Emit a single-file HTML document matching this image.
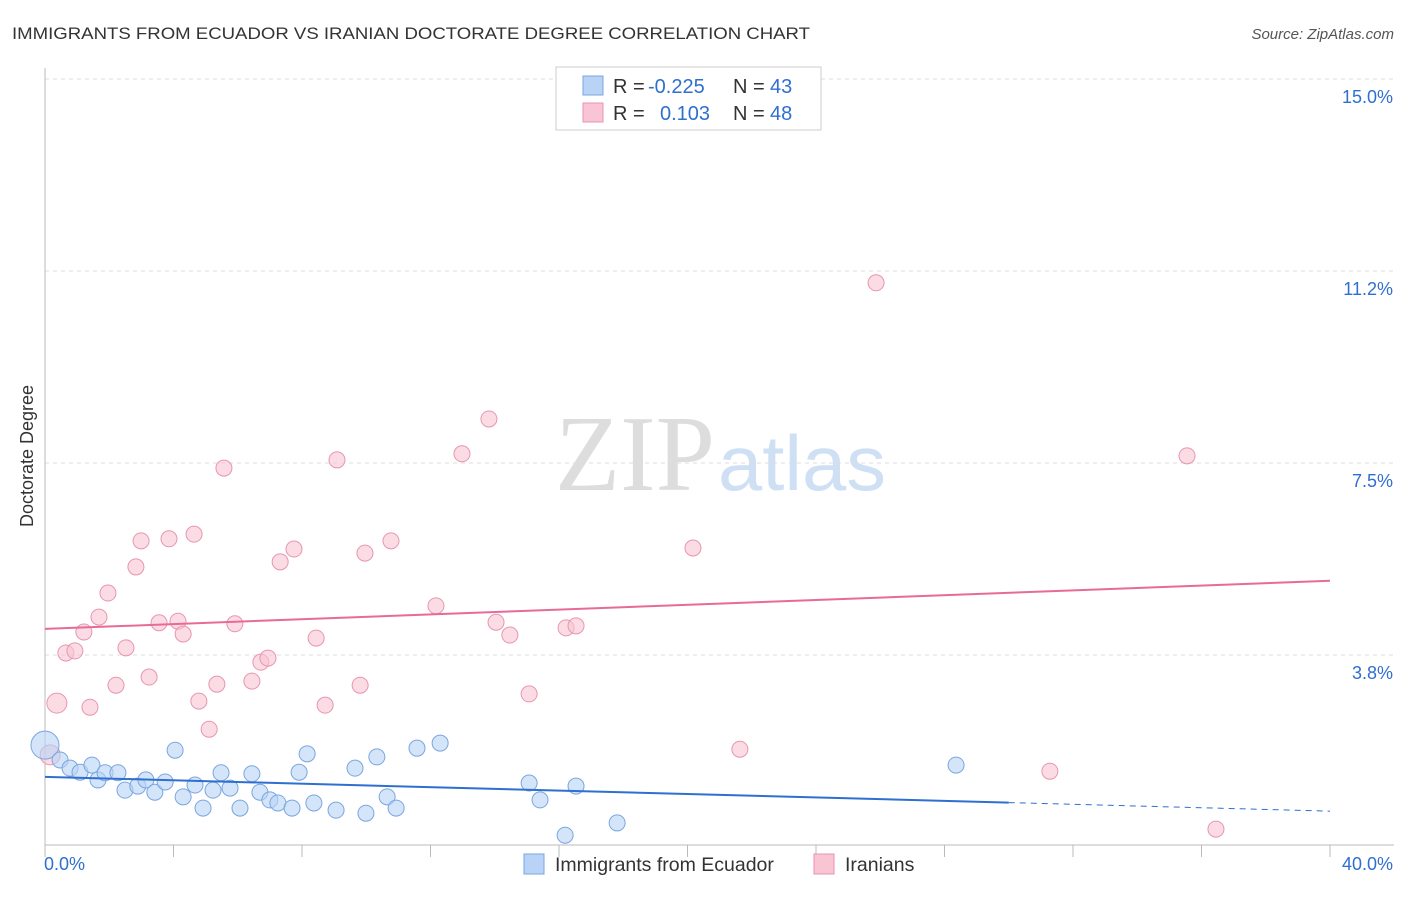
<!DOCTYPE html>
<html><head><meta charset="utf-8"><style>
body{margin:0;background:#fff;font-family:"Liberation Sans",sans-serif}
</style></head><body>
<svg id="c" width="1406" height="892" xmlns="http://www.w3.org/2000/svg">
<text x="12" y="39" font-size="17" fill="#333" textLength="798" lengthAdjust="spacingAndGlyphs">IMMIGRANTS FROM ECUADOR VS IRANIAN DOCTORATE DEGREE CORRELATION CHART</text>
<text x="1394" y="39" font-size="15" fill="#555" font-style="italic" text-anchor="end">Source: ZipAtlas.com</text>
<text x="555" y="490" font-size="108" fill="#ddd" textLength="160" lengthAdjust="spacingAndGlyphs" font-family="Liberation Serif">ZIP</text>
<text x="718" y="490" font-size="78" fill="#cfe0f5" textLength="168" lengthAdjust="spacingAndGlyphs">atlas</text>
<text transform="translate(33,456) rotate(-90)" font-size="18" fill="#333" text-anchor="middle">Doctorate Degree</text>
<g id="grid"></g><g id="marks"></g>
<g font-size="20">
<rect x="556" y="67" width="265" height="63" fill="#fff" stroke="#ccc"/>
<rect x="583" y="76" width="20" height="19" fill="#b8d3f5" stroke="#7aa6e0"/>
<rect x="583" y="103" width="20" height="19" fill="#f9c4d4" stroke="#e895b0"/>
<text x="613" y="93" fill="#333">R =</text><text x="648" y="93" fill="#2f6fd0">-0.225</text>
<text x="733" y="93" fill="#333">N =</text><text x="770" y="93" fill="#2f6fd0">43</text>
<text x="613" y="120" fill="#333">R =</text><text x="660" y="120" fill="#2f6fd0">0.103</text>
<text x="733" y="120" fill="#333">N =</text><text x="770" y="120" fill="#2f6fd0">48</text>
</g>
<g>
<rect x="524" y="854" width="20" height="20" fill="#b8d3f5" stroke="#7aa6e0"/>
<text x="555" y="871" font-size="19.5" fill="#333">Immigrants from Ecuador</text>
<rect x="814" y="854" width="20" height="20" fill="#f9c4d4" stroke="#e895b0"/>
<text x="845" y="871" font-size="19.5" fill="#333">Iranians</text>
</g>
</svg>
<script>
const yTicks=[15.0,11.25,7.5,3.75];
const yTickLabels=["15.0%","11.2%","7.5%","3.8%"];
const blueX=[0,0.47,0.78,1.09,1.46,1.65,1.87,2.27,2.49,2.89,3.14,3.42,3.74,4.05,4.30,4.67,4.92,5.23,5.48,5.76,6.07,6.44,6.69,7.00,7.25,7.69,7.91,8.16,8.37,9.06,9.65,9.99,10.33,10.65,10.93,11.58,12.30,15.07,15.41,16.19,16.53,17.81,28.36];
const blueY=[1.99,1.70,1.54,1.46,1.60,1.31,1.45,1.45,1.11,1.19,1.31,1.07,1.27,1.89,0.98,1.21,0.76,1.11,1.45,1.15,0.76,1.43,1.07,0.92,0.86,0.76,1.46,1.82,0.86,0.72,1.54,0.66,1.76,0.98,0.76,1.93,2.03,1.25,0.92,0.23,1.19,0.47,1.60];
const pinkX=[0.37,0.16,0.65,0.93,1.21,1.40,1.68,1.96,2.21,2.52,2.83,2.99,3.24,3.55,3.86,4.14,4.30,4.64,4.79,5.11,5.35,5.57,5.91,6.44,6.72,6.94,7.32,7.75,8.44,8.72,9.09,9.81,9.96,10.77,12.17,12.98,13.82,14.04,14.47,15.07,16.22,16.53,20.17,21.63,25.87,31.28,35.55,36.45];
const pinkY=[2.81,1.80,3.79,3.83,4.20,2.73,4.49,4.96,3.16,3.89,5.47,5.98,3.32,4.38,6.02,4.41,4.16,6.11,2.85,2.30,3.18,7.40,4.36,3.24,3.61,3.69,5.57,5.82,4.08,2.77,7.56,3.16,5.74,5.98,4.71,7.68,8.36,4.39,4.14,2.99,4.28,4.32,5.84,1.91,11.02,1.48,7.64,0.35];
const blueTrend=[1.37,0.70], pinkTrend=[4.26,5.20], blueSolidEnd=30;
const NS="http://www.w3.org/2000/svg";
const sx=v=>45+v*32.125, sy=v=>847-v*51.2;
function mk(p,t,a){const e=document.createElementNS(NS,t);for(const k in a)e.setAttribute(k,a[k]);p.appendChild(e);return e;}
const g=document.getElementById('grid'), m=document.getElementById('marks');
yTicks.forEach((t,i)=>{
 const l=mk(g,'line',{x1:45,x2:1394,y1:sy(t),y2:sy(t),stroke:'#ddd','stroke-dasharray':'4,4'});
 
 
 const tx=mk(g,'text',{x:1393,y:sy(t)+24,'font-size':18,fill:'#2f6fd0','text-anchor':'end'});
 tx.textContent=yTickLabels[i];
 
 
});
mk(g,'line',{x1:45,x2:45,y1:68,y2:845,stroke:'#bbb'});
mk(g,'line',{x1:45,x2:1394,y1:845,y2:845,stroke:'#bbb'});
for(let v=0;v<=40;v+=4){const t=mk(g,'line',{x1:sx(v),x2:sx(v),y1:845,y2:857,stroke:'#bbb'});
 
 }
const x0=mk(g,'text',{x:44,y:870,'font-size':18,fill:'#2f6fd0'});x0.textContent='0.0%';


const x1=mk(g,'text',{x:1393,y:870,'font-size':18,fill:'#2f6fd0','text-anchor':'end'});x1.textContent='40.0%';


pinkX.forEach((x,i)=>{const c=mk(m,'circle',{cx:sx(x),cy:sy(pinkY[i]),r:i<2?10:8,fill:'#f9c4d4','fill-opacity':0.6,stroke:'#e895b0','stroke-width':1});
 
 });
blueX.forEach((x,i)=>{const c=mk(m,'circle',{cx:sx(x),cy:sy(blueY[i]),r:i==0?14:8,fill:'#b8d3f5','fill-opacity':0.6,stroke:'#7aa6e0','stroke-width':1});
 
 });
const by=x=>blueTrend[0]+(blueTrend[1]-blueTrend[0])*x/40;
let l1=mk(m,'line',{x1:sx(0),y1:sy(by(0)),x2:sx(blueSolidEnd),y2:sy(by(blueSolidEnd)),stroke:'#2f6fd0','stroke-width':2});


let l2=mk(m,'line',{x1:sx(blueSolidEnd),y1:sy(by(blueSolidEnd)),x2:sx(40),y2:sy(by(40)),stroke:'#2f6fd0','stroke-width':1,'stroke-dasharray':'6,5'});


let l3=mk(m,'line',{x1:sx(0),y1:sy(pinkTrend[0]),x2:sx(40),y2:sy(pinkTrend[1]),stroke:'#e86a98','stroke-width':2});


</script>
</body></html>
